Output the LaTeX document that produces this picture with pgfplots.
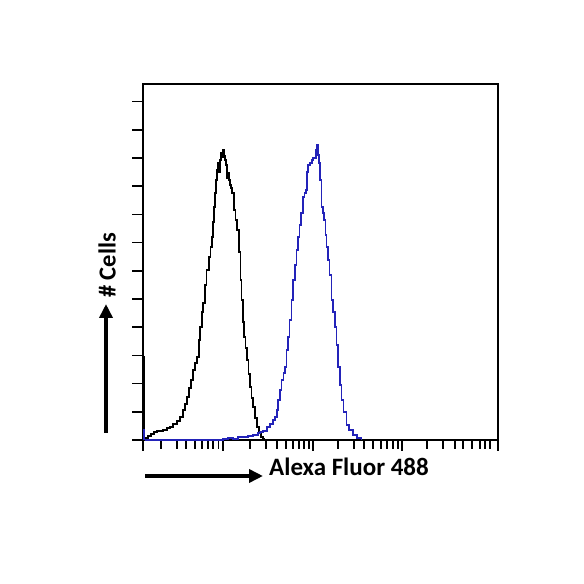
\documentclass[border=0pt]{standalone}
\usepackage{fontspec}
\setmainfont{Carlito}
\usepackage{pgfplots}
\pgfplotsset{compat=1.18}
\usetikzlibrary{arrows.meta}
\definecolor{fblue}{RGB}{35,35,185}
\begin{document}
\begin{tikzpicture}[x=1pt,y=1pt]
\path[use as bounding box] (0,0) rectangle (584,584);
\begin{axis}[at={(143pt,144pt)}, anchor=south west, scale only axis,
  width=355pt, height=356pt, xmin=0, xmax=355, ymin=0, ymax=356,
  axis line style={line width=2pt},
  xtick pos=bottom, ytick pos=left,
  xtick={0,80,170,259,355},
  minor xtick={17.7,33.7,43,52,58.7,64.7,69.7,75.3,
    107,123,134,143,150,156,161,166,
    195,211,221,230,238,244,250,255,
    284,300,312,320,329,337,342,347},
  ytick={0,28.2,56.4,84.6,112.8,141,169.2,197.4,225.6,253.8,282,310.2,338.4},
  xticklabels={}, yticklabels={},
  tick align=outside, major tick length=11pt, minor tick length=9pt,
  every tick/.style={black, line width=1.6pt},
  clip=false]
% black (control) histogram
\addplot[black, line width=1.5pt, const plot] coordinates {(0.5,0) (0.5,83) (1.5,83) (1.5,2)};
\addplot[black, line width=1.5pt, const plot] coordinates {
(2,2) (5,4) (8,6) (11,8) (14,9) (17,9) (20,10) (24,12) (27,13) (30,16) (34,19) (37,23)
(40,30) (42,36) (44,43) (46,52) (48,60) (50,70) (52,77) (54,83) (56,100) (57,113) (59,128)
(60,137) (62,155) (63.5,170) (66,183) (67.5,193) (69,203) (70,218) (71,233) (72,247)
(73,260) (74,270) (75,277) (76,268) (77,280) (78,287) (79,283) (80,290) (81,284) (82,280)
(83,275) (84,262) (85,267) (86,260) (87,255) (88,252) (89,247) (91,230) (92.5,220) (94,210)
(96,188) (97.5,160) (98.5,140) (100,118) (101,103) (102.5,92) (104,80) (105.5,66) (107,53)
(108.5,42) (110,33) (112,22) (114,13) (116,7) (118,3) (120,1) (121,0)};
% blue (stained) histogram
\addplot[fblue, line width=1.5pt, const plot] coordinates {(0.5,0) (0.5,10) (1.5,10) (1.5,0)};
\addplot[fblue, line width=1.5pt, const plot] coordinates {
(1.5,0) (77,0) (80,1) (85,2) (90,1) (95,3) (100,3) (105,4) (110,5) (115,7) (117,8) (120,9)
(124,13) (127,16) (130,20) (132,23) (134,30) (135,40) (137,50) (138.7,60) (140.5,67) (142,73)
(143.5,90) (145,103) (146.5,120) (148.7,140) (150,160) (152,175) (153.5,190) (155,203)
(156.5,215) (158,227) (160,243) (161.5,247) (163,250) (164,268) (165,275) (167,277) (169,280)
(170,282) (172,282) (173,290) (174,295) (175,285) (176,277) (177,260) (178.7,233) (180,227)
(181,220) (182.5,205) (183.7,193) (185,180) (186.5,165) (188.7,140) (190,128) (192,113)
(193.5,95) (195,73) (197,55) (198.7,40) (200.5,28) (203.7,15) (206,10) (210,5) (214,2) (218.7,0)};
\end{axis}
% arrows and labels
\draw[line width=3.5pt, -{Triangle[length=14pt,width=13pt]}] (145,108) -- (263,108);
\node[anchor=west, font=\fontsize{25}{28}\selectfont\bfseries, inner sep=0pt] at (269,117) {Alexa Fluor 488};
\draw[line width=3.5pt, -{Triangle[length=14pt,width=13pt]}] (106,151) -- (106,280);
\node[rotate=90, anchor=west, font=\fontsize{24.5}{28}\selectfont\bfseries, inner sep=0pt] at (107,286) {\# Cells};
\end{tikzpicture}
\end{document}
